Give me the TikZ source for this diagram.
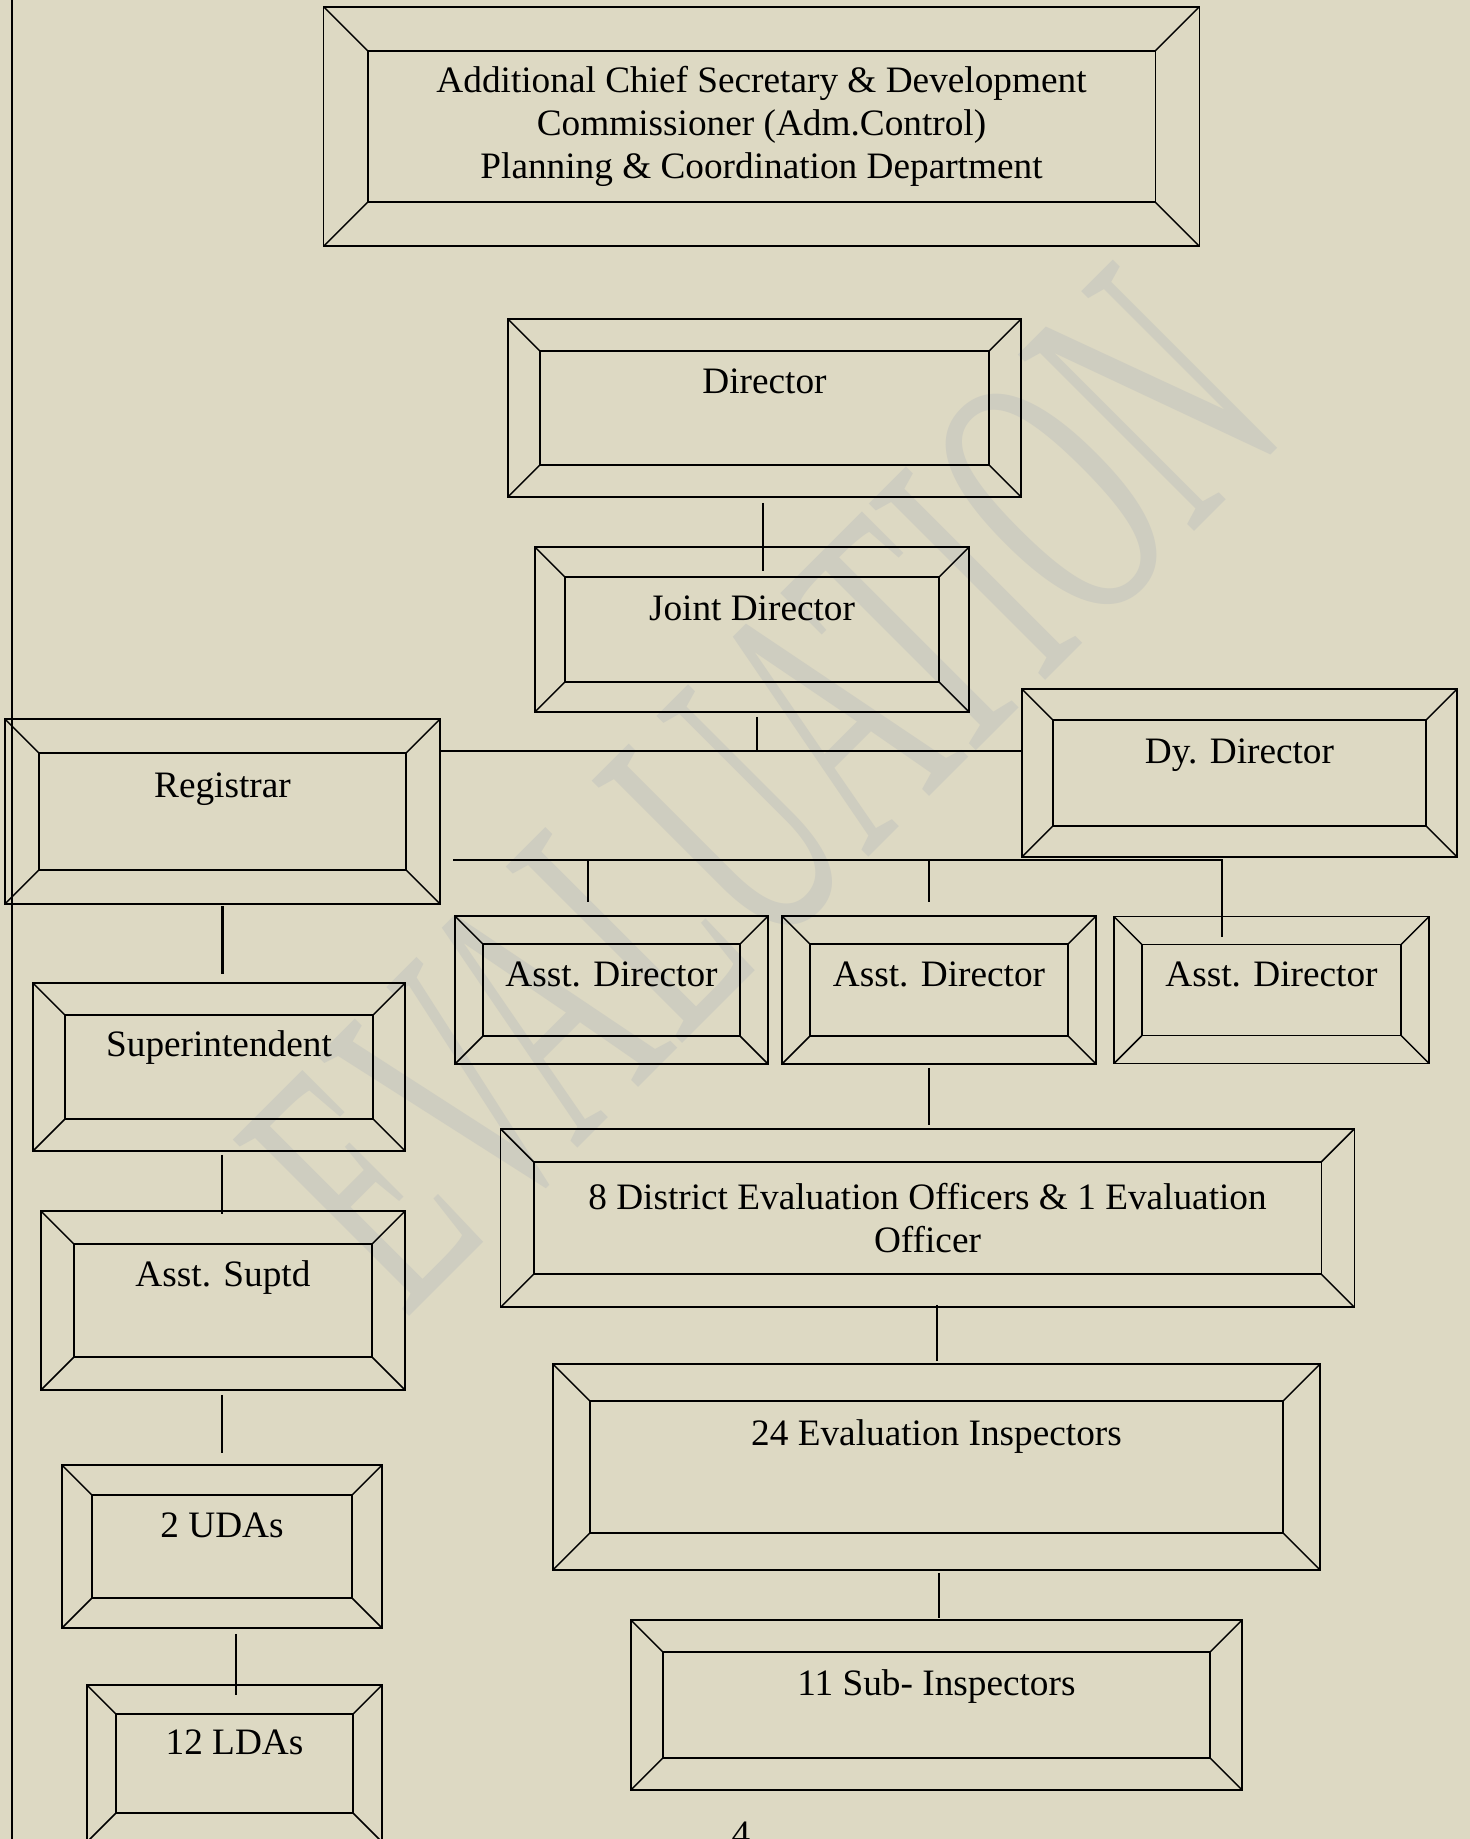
\documentclass[tikz,border=0pt]{standalone}
\usepackage{fontspec}
\setmainfont{Liberation Serif}
\usepackage{tikz}
\definecolor{pagetan}{RGB}{221,217,195}
\definecolor{wmgray}{RGB}{206,205,192}
\tikzset{
  bev/.code={\def\bevdepth{#1}},
  bev=0.32cm,
  bevline/.style={line width=0.42pt},
  bevelbox/.style={draw, bevline, rectangle, inner sep=0pt, align=center,
    font=\fontsize{10.6pt}{12.2pt}\selectfont,
    path picture={
      \draw[bevline] ([shift={(\bevdepth,-\bevdepth)}]path picture bounding box.north west)
        rectangle ([shift={(-\bevdepth,\bevdepth)}]path picture bounding box.south east);
      \draw[bevline]
        (path picture bounding box.north west) -- ++(\bevdepth,-\bevdepth)
        (path picture bounding box.north east) -- ++(-\bevdepth,-\bevdepth)
        (path picture bounding box.south west) -- ++(\bevdepth,\bevdepth)
        (path picture bounding box.south east) -- ++(-\bevdepth,\bevdepth);
    }},
  oneline/.style={text height=8pt, text depth=#1},
  oneline/.default=13.2pt,
  conn/.style={line width=0.6pt},
  wmark/.style={text=wmgray, inner sep=0pt, font=\fontsize{57pt}{57pt}\selectfont,
    rotate=45, yscale=1.9, transform shape}
}

\begin{document}
\begin{tikzpicture}[x=0.01cm, y=-0.01cm]
\fill[pagetan] (0,0) rectangle (1470,1839);
\useasboundingbox (0,0) rectangle (1470,1839);

\node[wmark] (wm) at (762,790) {EVALUATION};

\draw[line width=0.7pt] (12,0) -- (12,1839);

\node[bevelbox, bev=0.44cm, minimum width=8.75cm, minimum height=2.39cm] (acs) at (761.5,126.5)
  {Additional Chief Secretary \& Development\\Commissioner (Adm.Control)\\Planning \& Coordination Department};
\node[bevelbox, oneline=16pt, bev=0.32cm, minimum width=5.13cm, minimum height=1.78cm] (dir) at (764.5,408) {Director};
\node[bevelbox, oneline, bev=0.30cm, minimum width=4.34cm, minimum height=1.65cm] (jd) at (752,629.5) {Joint Director};
\node[bevelbox, oneline=16pt, bev=0.34cm, minimum width=4.35cm, minimum height=1.85cm] (reg) at (222.5,811.5) {Registrar};
\node[bevelbox, oneline, bev=0.31cm, minimum width=4.35cm, minimum height=1.68cm] (dyd) at (1239.5,773) {Dy. Director};
\node[bevelbox, oneline=10pt, bev=0.28cm, minimum width=3.13cm, minimum height=1.48cm] (ad1) at (611.5,990) {Asst. Director};
\node[bevelbox, oneline=10pt, bev=0.28cm, minimum width=3.14cm, minimum height=1.48cm] (ad2) at (939,990) {Asst. Director};
\node[bevelbox, oneline=10pt, bev=0.28cm, minimum width=3.15cm, minimum height=1.47cm] (ad3) at (1271.5,990) {Asst. Director};
\node[bevelbox, bev=0.33cm, minimum width=8.53cm, minimum height=1.78cm] (deo) at (927.5,1218)
  {8 District Evaluation Officers \& 1 Evaluation\\Officer};
\node[bevelbox, oneline=20pt, bev=0.37cm, minimum width=7.67cm, minimum height=2.06cm] (ei) at (936.5,1467) {24 Evaluation Inspectors};
\node[bevelbox, oneline, bev=0.32cm, minimum width=6.11cm, minimum height=1.70cm] (si) at (936.5,1705) {11 Sub- Inspectors};
\node[bevelbox, oneline=14pt, bev=0.32cm, minimum width=3.72cm, minimum height=1.68cm] (sup) at (219,1067) {Superintendent};
\node[bevelbox, oneline=16pt, bev=0.33cm, minimum width=3.64cm, minimum height=1.79cm] (as) at (223,1300.5) {Asst. Suptd};
\node[bevelbox, oneline, bev=0.30cm, minimum width=3.20cm, minimum height=1.63cm] (uda) at (222,1546.5) {2 UDAs};
\node[bevelbox, oneline, bev=0.29cm, minimum width=2.95cm, minimum height=1.57cm] (lda) at (234.5,1763.5) {12 LDAs};

\coordinate (busA) at (757,751);
\coordinate (busB) at (453,860);
\coordinate (busEnd) at (1222,937);

\draw[conn]
(dir.south) ++(-1.5,5) -- ++(0,68)
(jd.south) ++(5,4) -- ++(0,35)
(busA -| reg.east) -- (busA -| dyd.west);
\draw[conn]
(busB) -| (busEnd)
(ad1.north) ++(-23.5,-56) -- ++(0,43)
(ad2.north) ++(-10,-56) -- ++(0,43);
\draw[conn]
(ad2.south) ++(-10,3) -- ++(0,57)
(deo.south) ++(9.5,-3) -- ++(0,56)
(ei.south) ++(2.5,2) -- ++(0,45);
\draw[conn]
(reg.south) ++(0,1) -- ++(0,68)
(sup.south) ++(3,3) -- ++(0,59)
(as.south) ++(-1,4) -- ++(0,58)
(uda.south) ++(14,5) -- ++(0,61);

\node[anchor=base, inner sep=0pt, font=\fontsize{10.6pt}{12.2pt}\selectfont] (pg) at (741,1846) {4};
\end{tikzpicture}
\end{document}
